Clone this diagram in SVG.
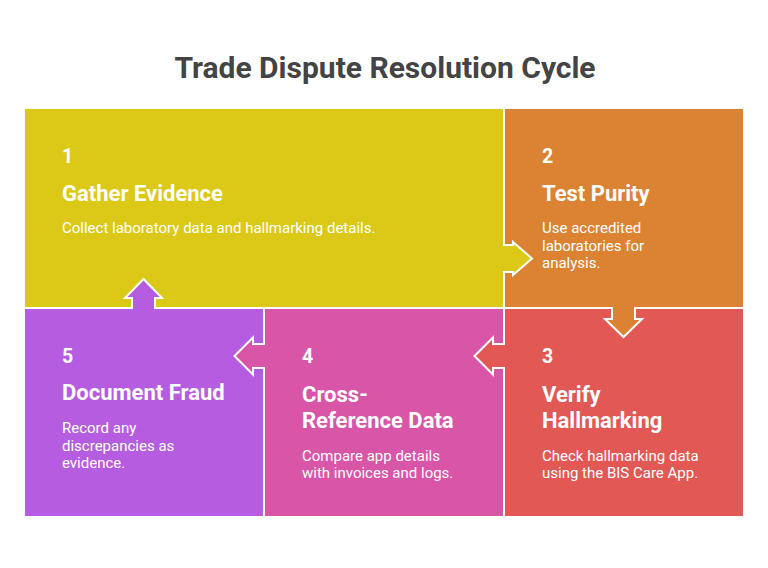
<svg xmlns="http://www.w3.org/2000/svg" width="768" height="568" viewBox="0 0 768 568">
<style>
  .num { font-family: Roboto, "Liberation Sans", sans-serif; font-weight: 700; font-size: 19.5px; fill: #ffffff; }
  .ttl { font-family: Roboto, "Liberation Sans", sans-serif; font-weight: 700; font-size: 22px; fill: #ffffff; }
  .body { font-family: Roboto, "Liberation Sans", sans-serif; font-weight: 400; font-size: 15px; fill: #ffffff; }
  .head { font-family: Roboto, "Liberation Sans", sans-serif; font-weight: 700; font-size: 30px; fill: #444444; }
  .arrow { stroke: #ffffff; stroke-width: 2; stroke-linejoin: miter; }
  .c1 { fill: #DCC816; }
  .c2 { fill: #DB8333; }
  .c3 { fill: #E25854; }
  .c4 { fill: #D955A8; }
  .c5 { fill: #B65CE0; }
</style>
<rect width="768" height="568" fill="#ffffff"/>
<text class="head" x="385" y="77.5" text-anchor="middle">Trade Dispute Resolution Cycle</text>

<g id="node1">
  <rect class="c1" x="25" y="109" width="478" height="198"/>
  <text class="num" x="62" y="163">1</text>
  <text class="ttl" x="62" y="201">Gather Evidence</text>
  <text class="body" x="62" y="232.5">Collect laboratory data and hallmarking details.</text>
</g>
<g id="node2">
  <rect class="c2" x="505" y="109" width="238" height="198"/>
  <text class="num" x="542" y="163">2</text>
  <text class="ttl" x="542" y="201">Test Purity</text>
  <text class="body" x="542" y="233">Use accredited</text>
  <text class="body" x="542" y="250.5">laboratories for</text>
  <text class="body" x="542" y="268">analysis.</text>
</g>
<g id="node3">
  <rect class="c3" x="505" y="309" width="238" height="207"/>
  <text class="num" x="542" y="363">3</text>
  <text class="ttl" x="542" y="401.5">Verify</text>
  <text class="ttl" x="542" y="427.5">Hallmarking</text>
  <text class="body" x="542" y="460.5">Check hallmarking data</text>
  <text class="body" x="542" y="477.5">using the BIS Care App.</text>
</g>
<g id="node4">
  <rect class="c4" x="265" y="309" width="238" height="207"/>
  <text class="num" x="302" y="363">4</text>
  <text class="ttl" x="302" y="401.5">Cross-</text>
  <text class="ttl" x="302" y="427.5">Reference Data</text>
  <text class="body" x="302" y="460.5">Compare app details</text>
  <text class="body" x="302" y="477.5">with invoices and logs.</text>
</g>
<g id="node5">
  <rect class="c5" x="25" y="309" width="238" height="207"/>
  <text class="num" x="62" y="363">5</text>
  <text class="ttl" x="62" y="400">Document Fraud</text>
  <text class="body" x="62" y="433">Record any</text>
  <text class="body" x="62" y="450.5">discrepancies as</text>
  <text class="body" x="62" y="468">evidence.</text>
</g>

<g id="connectors">
  <path class="arrow c1" d="M503,245 H513 V242 L532,258.5 L513,275 V272 H503"/>
  <path class="arrow c2" d="M612,307 V319 H605 L623.5,337 L642,319 H635 V307"/>
  <path class="arrow c3" d="M505,344 H493 V337.5 L474.5,356 L493,374.5 V368 H505"/>
  <path class="arrow c4" d="M265,344 H253 V337.5 L234.5,356 L253,374.5 V368 H265"/>
  <path class="arrow c5" d="M132,309 V298 H125 L143.5,279 L162,298 H155 V309"/>
</g>
</svg>
